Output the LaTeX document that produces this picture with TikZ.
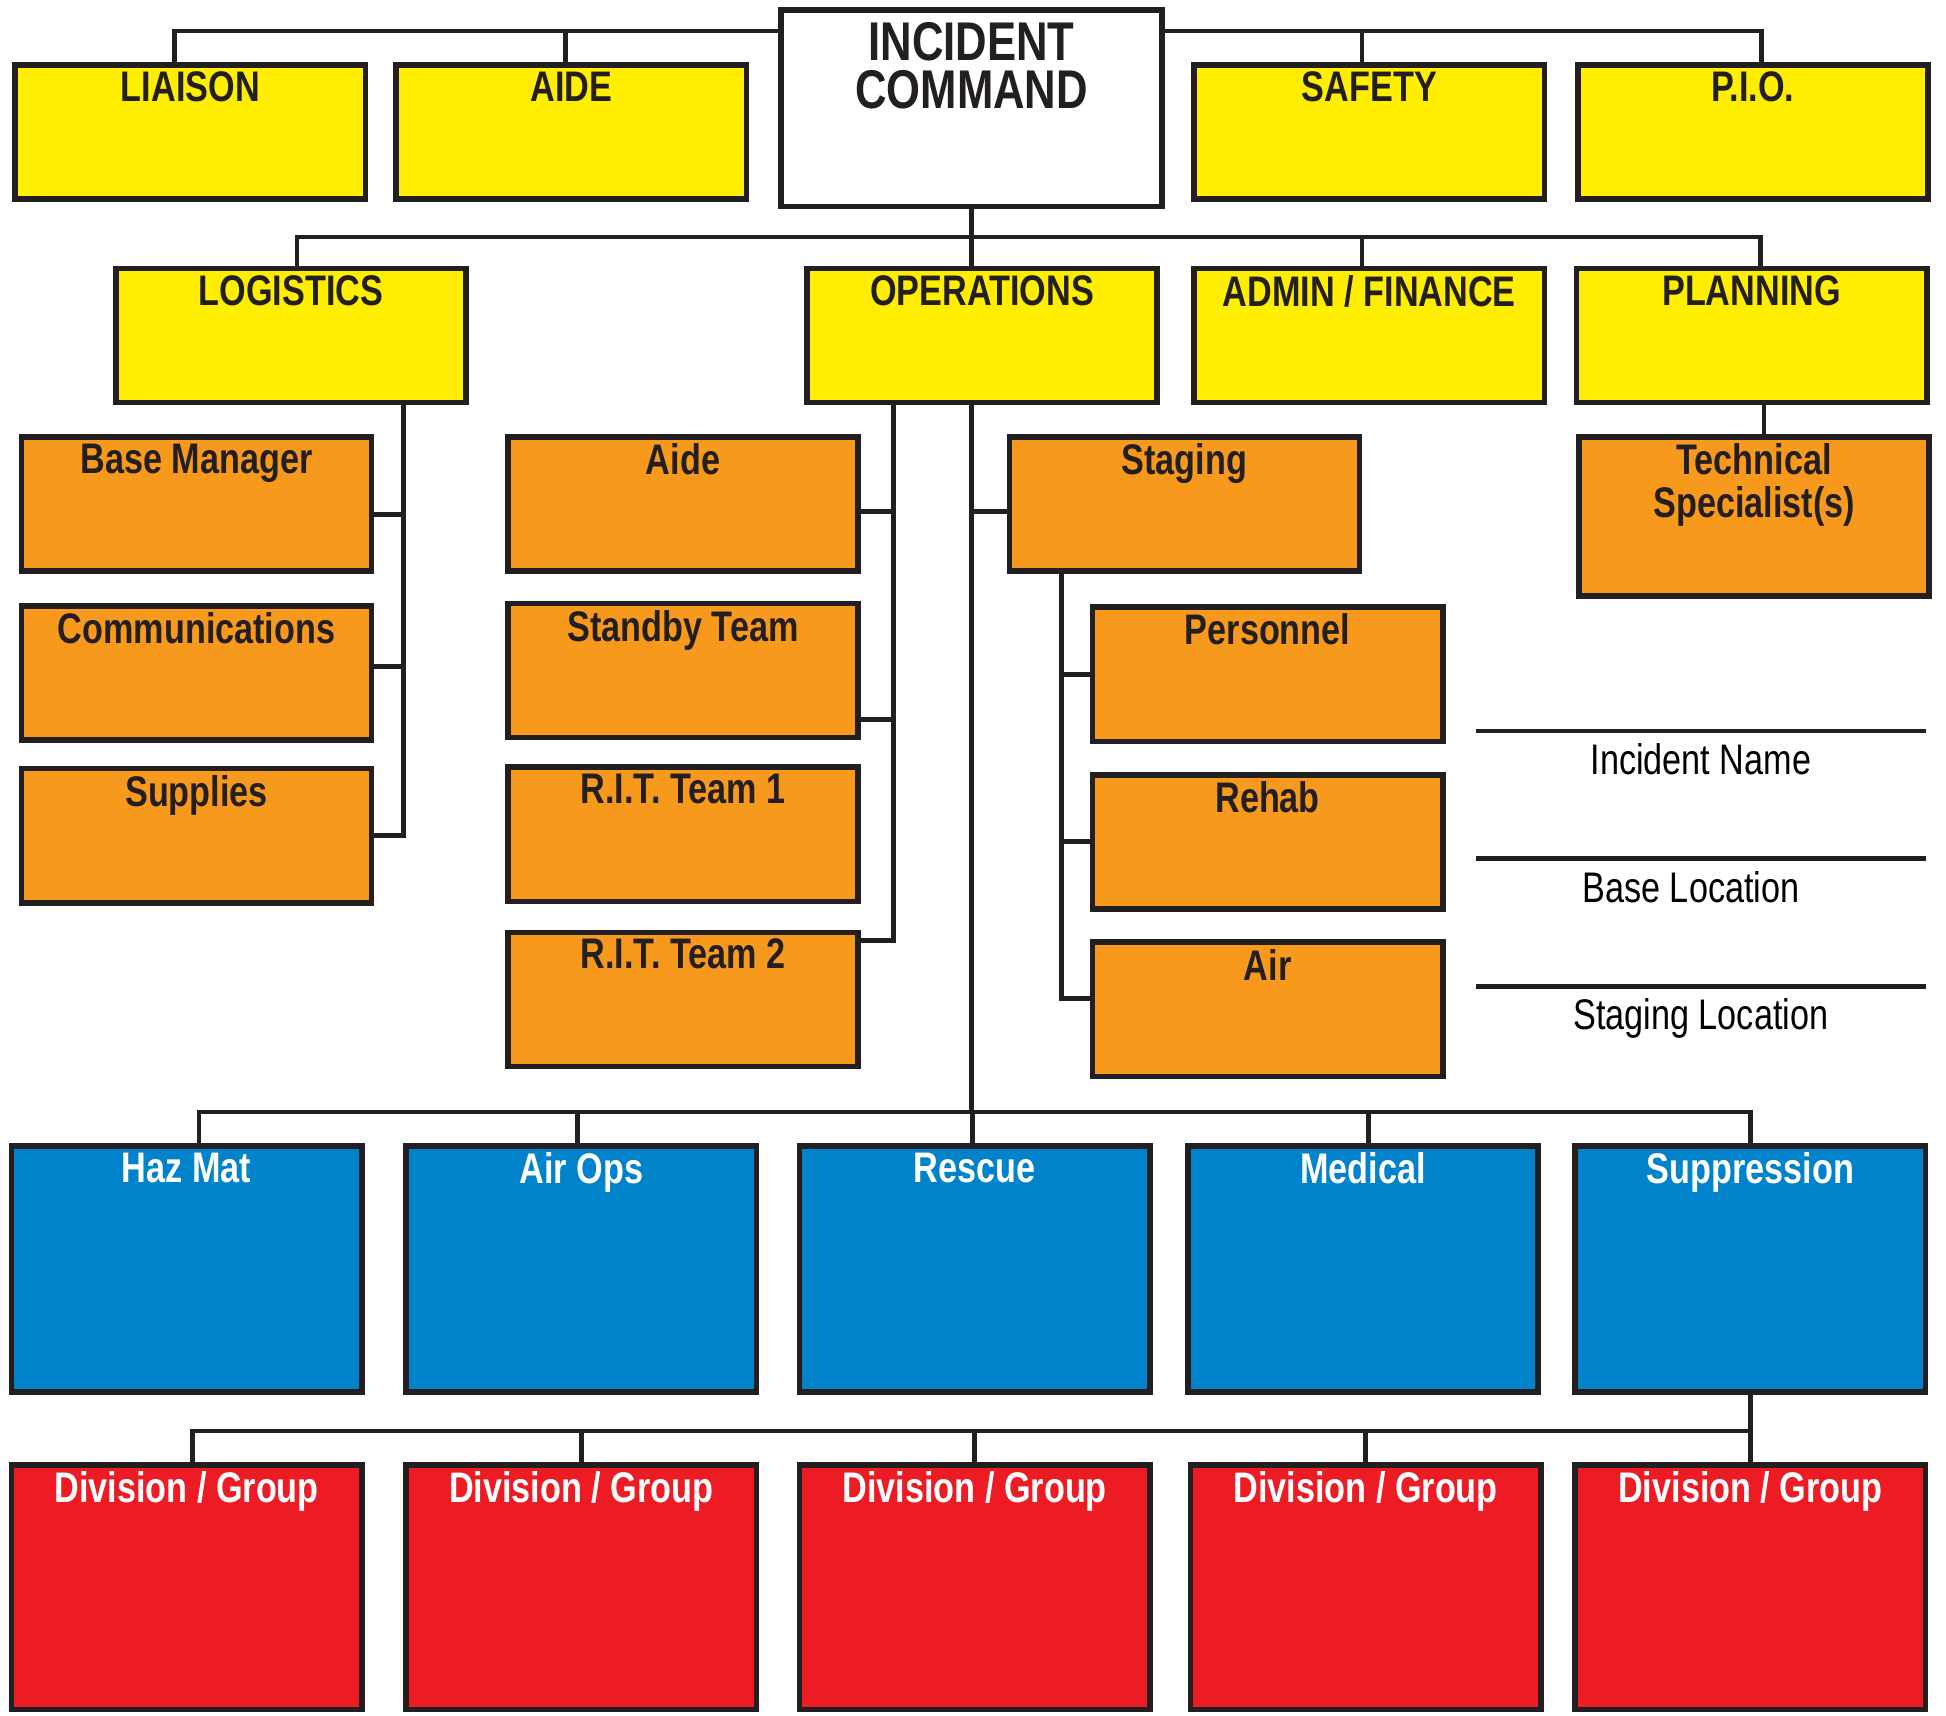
\documentclass[tikz,border=0pt]{standalone}
\usepackage{fontspec}
\setmainfont{Liberation Sans}[FakeStretch=0.8]
\definecolor{ink}{HTML}{231F20}
\definecolor{cmdyellow}{HTML}{FFEE00}
\definecolor{secorange}{HTML}{F7991D}
\definecolor{branchblue}{HTML}{0083CA}
\definecolor{grpred}{HTML}{ED1C24}
\begin{document}
\begin{tikzpicture}[x=0.01cm, y=-0.01cm,
    unit/.style={draw=ink, line width=1.3pt, inner sep=0pt, anchor=north west,
      minimum width=2.82cm, minimum height=1.08cm},
    cmd/.style={unit, fill=cmdyellow},
    sect/.style={unit, fill=secorange},
    branch/.style={unit, fill=branchblue, minimum height=1.98cm},
    grp/.style={unit, fill=grpred, minimum height=1.97cm},
    title/.style={anchor=north, inner sep=0pt, yshift=-0.07cm, align=center,
      text=ink, font=\bfseries\fontsize{9.8}{9.7}\selectfont},
    titlew/.style={title, text=white},
    link/.style={draw=ink, line width=1.1pt},
  ]
  \useasboundingbox (0,0) rectangle (1568,1382);

  % command staff
  \node[unit, fill=white, minimum width=3.07cm, minimum height=1.58cm,
    label={[title, yshift=-0.04cm, font=\bfseries\fontsize{12.5}{11}\selectfont]north:INCIDENT\\COMMAND}]
    (ic) at (627,6) {};
  \node[cmd, label={[title]north:LIAISON}] (liaison) at (10,50) {};
  \node[cmd, label={[title]north:AIDE}] (aide) at (317,50) {};
  \node[cmd, label={[title]north:SAFETY}] (safety) at (960,50) {};
  \node[cmd, label={[title]north:P.I.O.}] (pio) at (1269,50) {};

  % sections
  \node[cmd, label={[title]north:LOGISTICS}] (logistics) at (91,214) {};
  \node[cmd, label={[title]north:OPERATIONS}] (ops) at (648,214) {};
  \node[cmd, label={[title]north:ADMIN / FINANCE}] (admin) at (960,214) {};
  \node[cmd, label={[title]north:PLANNING}] (planning) at (1268,214) {};

  % logistics units
  \node[sect, label={[title]north:Base Manager}] (basemgr) at (15,350) {};
  \node[sect, label={[title]north:Communications}] (comms) at (15,486) {};
  \node[sect, label={[title]north:Supplies}] (supplies) at (15,617) {};

  % operations units
  \node[sect, label={[title]north:Aide}] (opsaide) at (407,350) {};
  \node[sect, label={[title]north:Standby Team}] (standby) at (407,484) {};
  \node[sect, label={[title]north:R.I.T. Team 1}] (rit1) at (407,616) {};
  \node[sect, label={[title]north:R.I.T. Team 2}] (rit2) at (407,749) {};
  \node[sect, label={[title]north:Staging}] (staging) at (811,350) {};
  \node[sect, label={[title]north:Personnel}] (personnel) at (878,487) {};
  \node[sect, label={[title]north:Rehab}] (rehab) at (878,622) {};
  \node[sect, label={[title]north:Air}] (air) at (878,757) {};

  % planning unit
  \node[sect, minimum height=1.28cm, label={[title]north:Technical\\Specialist(s)}]
    (techspec) at (1270,350) {};

  % branches
  \node[branch, label={[titlew]north:Haz Mat}] (hazmat) at (7,921) {};
  \node[branch, label={[titlew]north:Air Ops}] (airops) at (325,921) {};
  \node[branch, label={[titlew]north:Rescue}] (rescue) at (642,921) {};
  \node[branch, label={[titlew]north:Medical}] (medical) at (955,921) {};
  \node[branch, label={[titlew]north:Suppression}] (suppr) at (1267,921) {};

  % divisions / groups
  \node[grp, label={[titlew]north:Division / Group}] (grpa) at (7,1178) {};
  \node[grp, label={[titlew]north:Division / Group}] (grpb) at (325,1178) {};
  \node[grp, label={[titlew]north:Division / Group}] (grpc) at (642,1178) {};
  \node[grp, label={[titlew]north:Division / Group}] (grpd) at (957,1178) {};
  \node[grp, label={[titlew]north:Division / Group}] (grpe) at (1267,1178) {};

  \coordinate (topbar) at (0,25);
  \coordinate (cmdbar) at (0,191);
  \coordinate (lspine) at (325,0);
  \coordinate (ospine) at (720,0);
  \coordinate (sspine) at (855,0);
  \coordinate (unitbar) at (0,896);
  \coordinate (grpbar) at (0,1153);

  \draw[link] ([xshift=-0.13cm]liaison.north) |- (ic.west |- topbar);
  \draw[link] ([xshift=-0.05cm]aide.north) -- ++(0,-25);
  \draw[link] ([xshift=0.07cm]pio.north) |- (ic.east |- topbar);
  \draw[link] ([xshift=-0.06cm]safety.north) -- ++(0,-25);

  \draw[link] (ic.south) -- (ic.south |- ops.north);
  \draw[link] ([xshift=0.07cm]planning.north) coordinate (pltie)
    |- ([xshift=0.05cm]logistics.north |- cmdbar) -- ([xshift=0.05cm]logistics.north);
  \draw[link] ([xshift=-0.06cm]admin.north) -- ++(0,-23);

  \draw[link] (logistics.south -| lspine) |- (supplies.east);
  \draw[link] ([yshift=-0.08cm]basemgr.east) coordinate (bmtie) -- (bmtie -| lspine);
  \draw[link] ([yshift=0.05cm]comms.east) coordinate (cmtie) -- (cmtie -| lspine);

  \draw[link] (ops.south -| ospine) |- ([yshift=-0.09cm]rit2.north east);
  \draw[link] ([yshift=-0.06cm]opsaide.east) coordinate (oatie) -- (oatie -| ospine);
  \draw[link] ([yshift=0.17cm]standby.south east) coordinate (sbtie) -- (sbtie -| ospine);

  \draw[link] (ic.south |- ops.south) -- (ic.south |- unitbar);
  \draw[link] ([yshift=-0.06cm]staging.west) coordinate (sttie) -- (sttie -| ic.south);
  \draw[link] (staging.south -| sspine) |- ([yshift=0.09cm]air.west);
  \draw[link] (personnel.west) -- (personnel.west -| sspine);
  \draw[link] (rehab.west) -- (rehab.west -| sspine);

  \draw[link] ([xshift=0.1cm]planning.south) coordinate (tstie) -- (tstie |- techspec.north);

  \draw[link] ([xshift=0.1cm]hazmat.north) |- (suppr.north |- unitbar) -- (suppr.north);
  \draw[link] ([xshift=-0.03cm]airops.north) -- ++(0,-25);
  \draw[link] ([xshift=-0.02cm]rescue.north) -- ++(0,-25);
  \draw[link] ([xshift=0.04cm]medical.north) -- ++(0,-25);

  \draw[link] (suppr.south) -- (grpe.north);
  \draw[link] ([xshift=0.05cm]grpa.north) |- (grpe.north |- grpbar);
  \foreach \g in {grpb, grpc, grpd}
    \draw[link] (\g.north) -- (\g.north |- grpbar);

  % incident details
  \draw[link] (1189,589) -- (1552,589)
    node[midway, below=0.08cm, inner sep=0pt, font=\fontsize{9.8}{10}\selectfont] (incname) {Incident Name};
  \draw[link] (1189,692) -- (1552,692)
    node[midway, below=0.08cm, xshift=-0.08cm, inner sep=0pt, font=\fontsize{9.8}{10}\selectfont] (baseloc) {Base Location};
  \draw[link] (1189,795) -- (1552,795)
    node[midway, below=0.08cm, inner sep=0pt, font=\fontsize{9.8}{10}\selectfont] (stageloc) {Staging Location};
\end{tikzpicture}
\end{document}
